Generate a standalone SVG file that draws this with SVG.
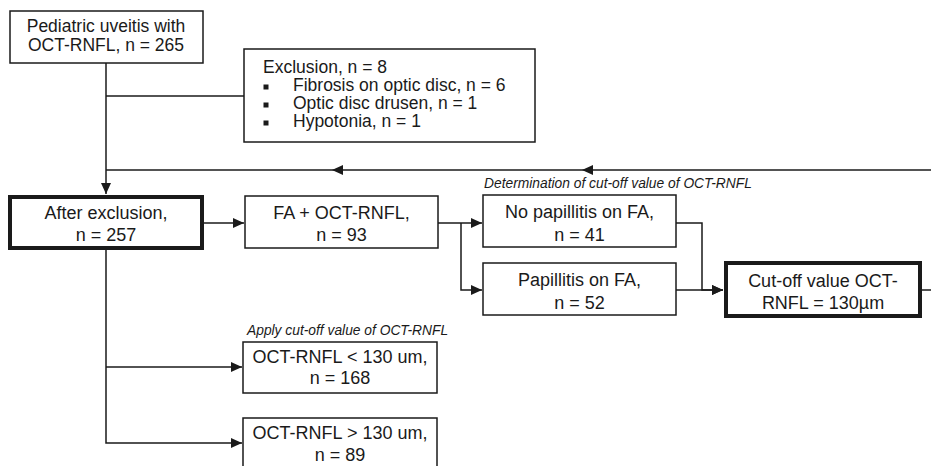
<svg xmlns="http://www.w3.org/2000/svg" width="931" height="466" viewBox="0 0 931 466">
<style>
.box{fill:#fff;stroke:#1a1a1a;stroke-width:1.5}
.thick{fill:#fff;stroke:#1a1a1a;stroke-width:4}
.t{font-family:"Liberation Sans",Arial,sans-serif;font-size:18px;fill:#1a1a1a;text-anchor:middle}
.s{font-size:17.5px}
.l{font-family:"Liberation Sans",Arial,sans-serif;font-size:17.5px;fill:#1a1a1a}
.i{font-family:"Liberation Sans",Arial,sans-serif;font-size:13.8px;font-style:italic;fill:#1a1a1a}
.c{fill:none;stroke:#1a1a1a;stroke-width:1.5}
.ah{fill:#1a1a1a}
</style>
<defs>
<marker id="arr" markerUnits="userSpaceOnUse" markerWidth="12" markerHeight="10" refX="11" refY="5" orient="auto">
<path d="M0,0 L11,5 L0,10 Z" fill="#1a1a1a"/>
</marker>
</defs>
<rect width="931" height="466" fill="#fff"/>
<g id="connectors">
<path class="c" d="M106,62 V194" marker-end="url(#arr)"/>
<path class="c" d="M106,96 H244"/>
<path class="c" d="M931,170 H106"/>
<path class="ah" d="M332,170 L343,165 L343,175 Z"/>
<path class="ah" d="M582,170 L593,165 L593,175 Z"/>
<path class="c" d="M204,223 H244" marker-end="url(#arr)"/>
<path class="c" d="M438,223 H482" marker-end="url(#arr)"/>
<path class="c" d="M461,223 V290 H482" marker-end="url(#arr)"/>
<path class="c" d="M676,223 H702 V290 H723" marker-end="url(#arr)"/>
<path class="c" d="M676,290 H723" marker-end="url(#arr)"/>
<path class="c" d="M922,290 H931"/>
<path class="c" d="M106,250 V443 H242" marker-end="url(#arr)"/>
<path class="c" d="M106,367 H242" marker-end="url(#arr)"/>
</g>
<g id="n1">
<rect class="box" x="10" y="11" width="193" height="52"/>
<text class="t s" x="106" y="32">Pediatric uveitis with</text>
<text class="t s" x="106" y="51">OCT-RNFL, n = 265</text>
</g>
<g id="excl">
<rect class="box" x="244" y="49" width="291" height="93"/>
<text class="l" x="263" y="73">Exclusion, n = 8</text>
<rect x="263.5" y="84.5" width="5" height="5" fill="#1a1a1a"/>
<text class="l" x="293" y="91">Fibrosis on optic disc, n = 6</text>
<rect x="263.5" y="102.5" width="5" height="5" fill="#1a1a1a"/>
<text class="l" x="293" y="109">Optic disc drusen, n = 1</text>
<rect x="263.5" y="120.5" width="5" height="5" fill="#1a1a1a"/>
<text class="l" x="293" y="127">Hypotonia, n = 1</text>
</g>
<g id="after">
<rect class="thick" x="10" y="197" width="192" height="51"/>
<text class="t" x="106" y="218.5">After exclusion,</text>
<text class="t" x="106" y="240.5">n = 257</text>
</g>
<g id="fa">
<rect class="box" x="245" y="196" width="193" height="52"/>
<text class="t" x="341.5" y="218.5">FA + OCT-RNFL,</text>
<text class="t" x="341.5" y="240.5">n = 93</text>
</g>
<text class="i" x="484" y="188">Determination of cut-off value of OCT-RNFL</text>
<g id="nopap">
<rect class="box" x="483" y="195" width="193" height="52"/>
<text class="t" x="579.5" y="218">No papillitis on FA,</text>
<text class="t" x="579.5" y="241">n = 41</text>
</g>
<g id="pap">
<rect class="box" x="483" y="263" width="193" height="52"/>
<text class="t" x="579.5" y="285.5">Papillitis on FA,</text>
<text class="t" x="579.5" y="309">n = 52</text>
</g>
<g id="cutoff">
<rect class="thick" x="726" y="263" width="194" height="53"/>
<text class="t" x="823" y="286.5">Cut-off value OCT-</text>
<text class="t" x="823" y="308.5">RNFL = 130µm</text>
</g>
<text class="i" x="247" y="335">Apply cut-off value of OCT-RNFL</text>
<g id="lt">
<rect class="box" x="243" y="342" width="194" height="51"/>
<text class="t" x="340" y="363">OCT-RNFL &lt; 130 um,</text>
<text class="t" x="340" y="384">n = 168</text>
</g>
<g id="gt">
<rect class="box" x="243" y="418" width="194" height="60"/>
<text class="t" x="340" y="438.5">OCT-RNFL &gt; 130 um,</text>
<text class="t" x="340" y="461">n = 89</text>
</g>
</svg>
